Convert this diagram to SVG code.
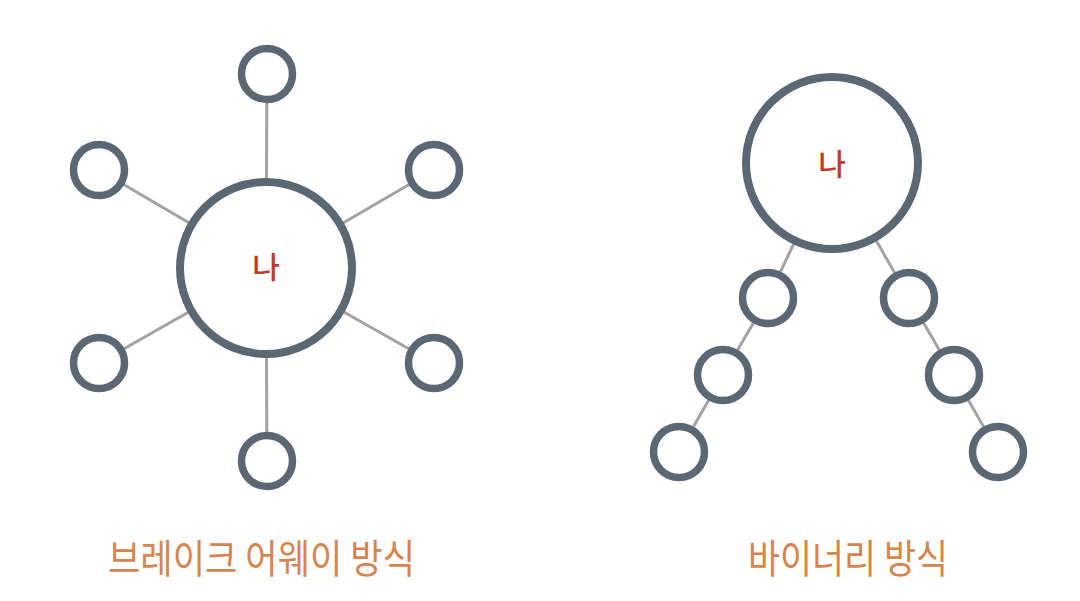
<svg xmlns="http://www.w3.org/2000/svg" width="1080" height="601" viewBox="0 0 1080 601">
<style>
.big{fill:#fff;stroke:#5b6873;stroke-width:8}
.sm{fill:#fff;stroke:#5b6873;stroke-width:7.5}
.ln{stroke:#a3a3a3;stroke-width:3;fill:none}
.me{font-family:"Noto Sans CJK KR",sans-serif;font-size:30px;font-weight:500;fill:#c0392b;text-anchor:middle}
.lbl{font-family:"Noto Sans CJK KR",sans-serif;font-size:40px;font-weight:400;fill:#d6854f}
</style>
<rect width="1080" height="601" fill="#fff"/>
<g id="connectors">
<line class="ln" x1="266" y1="268" x2="267" y2="74"/>
<line class="ln" x1="266" y1="268" x2="99" y2="170"/>
<line class="ln" x1="266" y1="268" x2="434" y2="170"/>
<line class="ln" x1="266" y1="268" x2="99" y2="363"/>
<line class="ln" x1="266" y1="268" x2="434" y2="363"/>
<line class="ln" x1="266" y1="268" x2="267" y2="461"/>
<line class="ln" x1="832" y1="163" x2="768" y2="298"/>
<line class="ln" x1="768" y1="298" x2="723" y2="375"/>
<line class="ln" x1="723" y1="375" x2="679" y2="452"/>
<line class="ln" x1="832" y1="163" x2="909" y2="298"/>
<line class="ln" x1="909" y1="298" x2="954" y2="375"/>
<line class="ln" x1="954" y1="375" x2="998" y2="452"/>
</g>
<g id="me-left"><circle class="big" cx="266" cy="268" r="86"/><text class="me" x="266" y="278">나</text></g>
<g id="s1"><circle class="sm" cx="267" cy="74" r="25.5"/></g>
<g id="s2"><circle class="sm" cx="99" cy="170" r="25.5"/></g>
<g id="s3"><circle class="sm" cx="434" cy="170" r="25.5"/></g>
<g id="s4"><circle class="sm" cx="99" cy="363" r="25.5"/></g>
<g id="s5"><circle class="sm" cx="434" cy="363" r="25.5"/></g>
<g id="s6"><circle class="sm" cx="267" cy="461" r="25.5"/></g>
<g id="me-right"><circle class="big" cx="832" cy="163" r="86"/><text class="me" x="832" y="175">나</text></g>
<g id="b1"><circle class="sm" cx="768" cy="298" r="25.5"/></g>
<g id="b2"><circle class="sm" cx="723" cy="375" r="25.5"/></g>
<g id="b3"><circle class="sm" cx="679" cy="452" r="25.5"/></g>
<g id="b4"><circle class="sm" cx="909" cy="298" r="25.5"/></g>
<g id="b5"><circle class="sm" cx="954" cy="375" r="25.5"/></g>
<g id="b6"><circle class="sm" cx="998" cy="452" r="25.5"/></g>
<g id="label-left"><text class="lbl" x="108" y="573" textLength="307" lengthAdjust="spacingAndGlyphs">브레이크 어웨이 방식</text></g>
<g id="label-right"><text class="lbl" x="748" y="573" textLength="200" lengthAdjust="spacingAndGlyphs">바이너리 방식</text></g>
</svg>
